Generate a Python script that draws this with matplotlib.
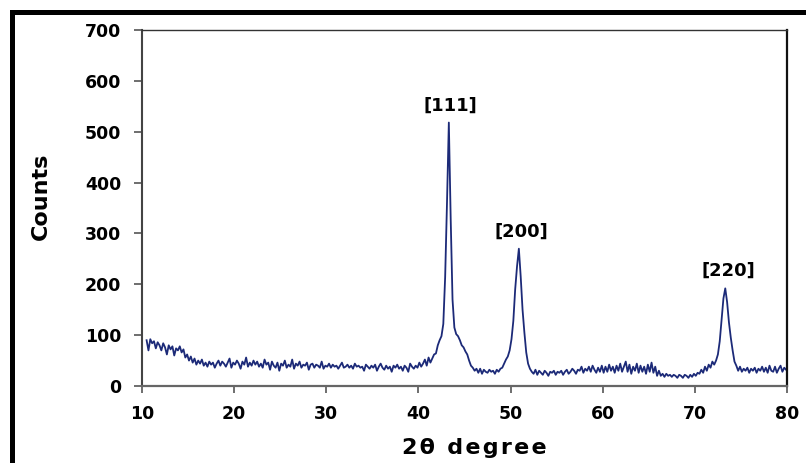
import numpy as np
import matplotlib
matplotlib.use("Agg")
import matplotlib.pyplot as plt
from matplotlib.patches import Rectangle

# ---- data ----
two_theta_start = 10.5
two_theta_step = 0.2
counts = [
    90, 70, 92, 84, 88,   74, 86, 80, 70, 84,      # 10.5 - 12.3
    76, 62, 80, 72, 78,   60, 74, 70, 78, 66,      # 12.5 - 14.3
    72, 56, 62, 50, 58,   46, 54, 42, 50, 44,      # 14.5 - 16.3
    52, 40, 46, 38, 48,   42, 46, 36, 44, 50,      # 16.5 - 18.3
    40, 48, 44, 38, 46,   54, 36, 46, 42, 50,      # 18.5 - 20.3
    44, 34, 48, 42, 56,   38, 46, 40, 50, 42,      # 20.5 - 22.3
    48, 38, 44, 36, 52,   42, 46, 32, 48, 40,      # 22.5 - 24.3
    36, 46, 30, 44, 40,   50, 36, 42, 38, 52,      # 24.5 - 26.3
    34, 44, 40, 48, 36,   42, 40, 46, 32, 42,      # 26.5 - 28.3
    44, 36, 42, 40, 36,   48, 34, 40, 38, 44,      # 28.5 - 30.3
    36, 42, 38, 40, 34,   40, 46, 36, 38, 42,      # 30.5 - 32.3
    36, 40, 34, 44, 38,   40, 36, 38, 30, 42,      # 32.5 - 34.3
    38, 34, 40, 36, 42,   30, 38, 44, 36, 32,      # 34.5 - 36.3
    40, 34, 38, 28, 40,   36, 42, 34, 38, 30,      # 36.5 - 38.3
    40, 36, 28, 44, 38,   34, 40, 36, 46, 38,      # 38.5 - 40.3
    44, 52, 40, 56, 46,   54, 62, 64, 80, 90,      # 40.5 - 42.3
    98, 122, 214, 360, 518,   330, 170, 115, 102, 98,   # 42.5 - 44.3
    90, 80, 76, 68, 62,   50, 40, 36, 30, 34,      # 44.5 - 46.3
    26, 34, 24, 32, 28,   26, 32, 28, 30, 24,      # 46.5 - 48.3
    32, 28, 34, 36, 44,   52, 58, 70, 92, 128,     # 48.5 - 50.3
    190, 235, 270, 215, 150,   105, 66, 44, 34, 28,  # 50.5 - 52.3
    24, 32, 22, 30, 26,   22, 30, 26, 20, 28,      # 52.5 - 54.3
    26, 30, 22, 28, 26,   30, 22, 28, 32, 24,      # 54.5 - 56.3
    28, 34, 30, 24, 32,   30, 38, 26, 34, 30,      # 56.5 - 58.3
    38, 28, 40, 32, 26,   36, 28, 40, 26, 38,      # 58.5 - 60.3
    28, 42, 30, 38, 26,   40, 30, 44, 28, 38,      # 60.5 - 62.3
    48, 28, 42, 24, 38,   30, 44, 26, 40, 28,      # 62.5 - 64.3
    38, 24, 42, 28, 46,   26, 38, 20, 30, 20,      # 64.5 - 66.3
    24, 18, 24, 20, 22,   18, 22, 20, 16, 22,      # 66.5 - 68.3
    20, 16, 22, 20, 16,   22, 18, 24, 20, 26,      # 68.5 - 70.3
    24, 32, 26, 38, 30,   42, 36, 48, 42, 50,      # 70.5 - 72.3
    62, 88, 130, 172, 192,   165, 125, 95, 70, 48,  # 72.5 - 74.3
    40, 30, 38, 28, 34,   30, 36, 26, 34, 30,      # 74.5 - 76.3
    36, 26, 34, 30, 38,   28, 36, 26, 40, 30,      # 76.5 - 78.3
    28, 38, 26, 34, 40,   28, 36, 32,              # 78.5 - 79.9
]
two_theta = two_theta_start + two_theta_step * np.arange(len(counts))

peak_labels = ["[111]", "[200]", "[220]"]
peak_label_x = [43.43, 51.13, 73.6]
peak_label_y = [552, 303, 226]

x_ticks = [10, 20, 30, 40, 50, 60, 70, 80]
y_ticks = [0, 100, 200, 300, 400, 500, 600, 700]

# ---- figure ----
W, H = 806, 463
fig = plt.figure(figsize=(W / 100, H / 100), dpi=100)
ax = fig.add_axes([142 / W, 1 - 386 / H, (787 - 142) / W, (386 - 30) / H])

ax.plot(two_theta, counts, color="#1c2a78", lw=1.3)

ax.set_xlim(10, 80)
ax.set_ylim(0, 700)
ax.set_xticks(x_ticks)
ax.set_yticks(y_ticks)

font = "DejaVu Sans"
for lab in ax.get_xticklabels() + ax.get_yticklabels():
    lab.set_fontfamily(font)
    lab.set_fontweight("bold")
    lab.set_fontsize(12.5)
ax.tick_params(axis="y", direction="out", length=6, width=1.2, color="#555555", pad=9)
ax.tick_params(axis="x", direction="out", length=5, width=1.2, color="#555555", pad=9)

ax.spines["left"].set_color("#444444")
ax.spines["left"].set_linewidth(1.5)
ax.spines["bottom"].set_color("#666666")
ax.spines["bottom"].set_linewidth(1.6)
ax.spines["top"].set_color("#333333")
ax.spines["top"].set_linewidth(1.0)
ax.spines["right"].set_color("#111111")
ax.spines["right"].set_linewidth(1.6)

for t, x, y in zip(peak_labels, peak_label_x, peak_label_y):
    ax.text(x, y, t, ha="center", va="center", fontsize=13,
            fontweight="bold", family=font, color="black")

xlabel = "\u200a".join("2θ degree")
fig.text(474 / W, 1 - 448 / H, xlabel, ha="center", va="center",
         fontsize=16, fontweight="bold", family=font)
fig.text(41 / W, 1 - 196 / H, "Counts", ha="center", va="center",
         rotation=90, fontsize=16, fontweight="bold", family=font)

# black frame lines (left and top)
fig.add_artist(Rectangle((10 / W, 0), 5 / W, (H - 10) / H,
                         transform=fig.transFigure, color="black", lw=0))
fig.add_artist(Rectangle((10 / W, 1 - 15 / H), 1 - 10 / W, 5 / H,
                         transform=fig.transFigure, color="black", lw=0))

fig.savefig("out.png", dpi=100)
